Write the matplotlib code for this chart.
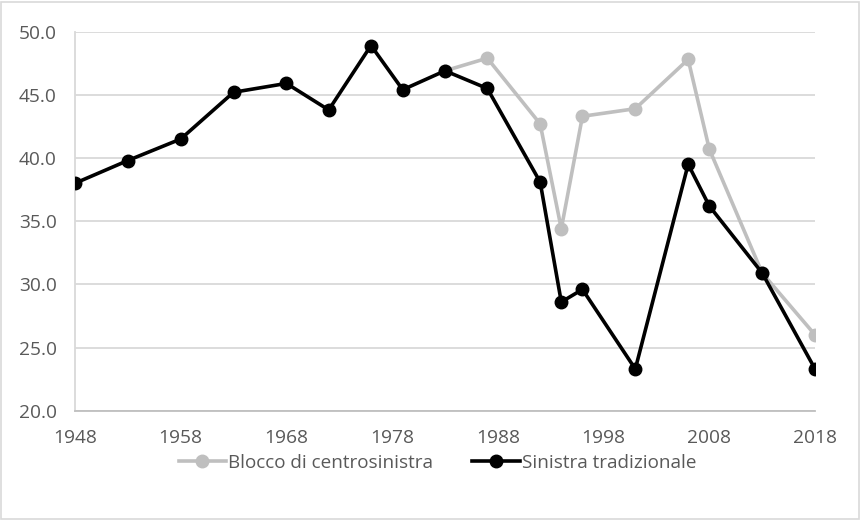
import matplotlib.pyplot as plt
from matplotlib.patches import Rectangle

# Election years and vote shares (%)
years = [1948, 1953, 1958, 1963, 1968, 1972, 1976, 1979, 1983, 1987,
         1992, 1994, 1996, 2001, 2006, 2008, 2013, 2018]
sinistra = [38.0, 39.8, 41.5, 45.2, 45.9, 43.8, 48.9, 45.4, 46.9, 45.5,
            38.1, 28.6, 29.6, 23.3, 39.5, 36.2, 30.9, 23.3]
blocco_years = [1983, 1987, 1992, 1994, 1996, 2001, 2006, 2008, 2013, 2018]
blocco = [46.9, 47.9, 42.7, 34.4, 43.3, 43.9, 47.8, 40.7, 30.9, 26.0]

x_ticks = [1948, 1958, 1968, 1978, 1988, 1998, 2008, 2018]
y_ticks = [20, 25, 30, 35, 40, 45, 50]

plt.rcParams['font.family'] = ['Open Sans', 'DejaVu Sans']

fig = plt.figure(figsize=(8.61, 5.2), dpi=100)
ax = fig.add_axes([0.0871, 0.2102, 0.8595, 0.729])

ax.plot(blocco_years, blocco, color='#BFBFBF', lw=2.6, marker='o',
        markersize=9, label='Blocco di centrosinistra', zorder=3)
ax.plot(years, sinistra, color='black', lw=2.6, marker='o',
        markersize=9, label='Sinistra tradizionale', zorder=4)

ax.set_xlim(1948, 2018)
ax.set_ylim(20, 50)
ax.set_xticks(x_ticks)
ax.set_yticks(y_ticks)
ax.set_yticklabels([f'{v:.1f}' for v in y_ticks])
ax.tick_params(length=0, labelsize=13.8, colors='#595959')
ax.tick_params(axis='y', pad=13)
ax.tick_params(axis='x', pad=13)
ax.yaxis.grid(True, color='#D9D9D9', lw=1.3)
ax.set_axisbelow(True)
for s in ['top', 'right']:
    ax.spines[s].set_visible(False)
ax.spines['left'].set_color('#D9D9D9')
ax.spines['left'].set_linewidth(1.3)
ax.spines['bottom'].set_color('#BFBFBF')
ax.spines['bottom'].set_linewidth(1.3)

leg = fig.legend(loc='center', bbox_to_anchor=(0.508, 0.11), ncol=2,
                 frameon=False, fontsize=13.6, handlelength=2.5,
                 handletextpad=0.1, columnspacing=2.1)
for t in leg.get_texts():
    t.set_color('#595959')

fig.patches.append(Rectangle((0.001, 0.002), 0.997, 0.995, transform=fig.transFigure,
                             fill=False, edgecolor='#D9D9D9', lw=1.2))

fig.savefig('out.png', dpi=100)
